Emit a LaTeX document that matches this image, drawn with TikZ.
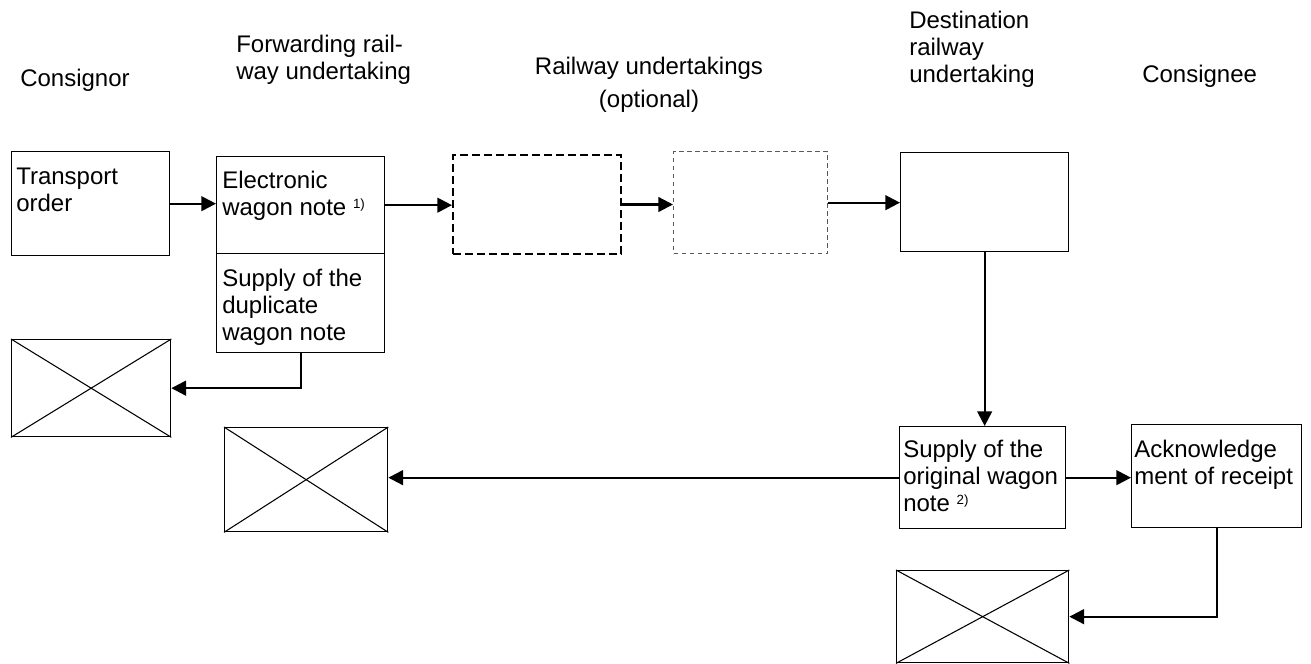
\documentclass[tikz,border=0pt]{standalone}
\usepackage{fontspec}
\setmainfont{Liberation Sans}
\usetikzlibrary{arrows.meta}
\newcommand\mylines[1]{\begin{tabular}[t]{@{}l@{}}#1\end{tabular}}
\newcommand\mycenter[1]{\begin{tabular}[t]{@{}c@{}}#1\end{tabular}}
\newcommand\fnmark[1]{\raisebox{5pt}{\fontsize{10pt}{10pt}\selectfont #1}}
\begin{document}
\begin{tikzpicture}[x=0.75pt,y=-0.75pt,
  every node/.style={font=\fontsize{18pt}{20.25pt}\selectfont},
  txt/.style={inner sep=0pt, anchor=base west},
  box/.style={draw, line width=1pt, inner sep=0pt, anchor=north west},
  dashA/.style={box, line width=1.5pt, dash pattern=on 6pt off 3pt},
  dashB/.style={box, draw=black!65, line width=1pt, dash pattern=on 3.5pt off 2.5pt},
  arr/.style={line width=1.7pt, -{Triangle[length=11pt,width=11pt]}},
  cross/.style={line width=0.8pt}
]
\useasboundingbox (0,0) rectangle (1311,664);

% column headings
\node[txt] (hcons) at (20,86) {Consignor};
\node[txt] (hfwd) at (236,52) {\mylines{Forwarding rail-\\way undertaking}};
\node[txt, anchor=base] (hrail) at (649,74) {\mycenter{Railway undertakings\\[5pt](optional)}};
\node[txt] (hdest) at (909,28) {\mylines{Destination\\railway\\undertaking}};
\node[txt] (hcgn) at (1142,82) {Consignee};

% boxes
\node[box, minimum width=158*0.75pt, minimum height=104*0.75pt] (tord) at (11,151) {};
\node[box, minimum width=168*0.75pt, minimum height=97*0.75pt] (ewn) at (216,156) {};
\node[box, minimum width=168*0.75pt, minimum height=99*0.75pt] (sdup) at (216,253) {};
\node[box, minimum width=159*0.75pt, minimum height=97*0.75pt] (xa) at (11,339) {};
\node[dashA, minimum width=168*0.75pt, minimum height=99*0.75pt] (da) at (452,154) {};
\node[dashB, minimum width=154*0.75pt, minimum height=102*0.75pt] (db) at (673,151) {};
\node[box, minimum width=168*0.75pt, minimum height=99*0.75pt] (dest) at (900,152) {};
\node[box, minimum width=166*0.75pt, minimum height=102*0.75pt] (sorig) at (899,426) {};
\node[box, minimum width=170*0.75pt, minimum height=103*0.75pt] (ack) at (1131,424) {};
\node[box, minimum width=163*0.75pt, minimum height=104*0.75pt] (xb) at (224,427) {};
\node[box, minimum width=172*0.75pt, minimum height=92*0.75pt] (xc) at (896,570) {};

% crosses
\foreach \b in {xa,xb,xc}{
  \draw[cross] (\b.north west) -- (\b.south east);
  \draw[cross] (\b.north east) -- (\b.south west);
}

% box texts
\node[txt] (ttord) at (16,184) {\mylines{Transport\\order}};
\node[txt] (tewn) at (222,188) {\mylines{Electronic\\wagon note \fnmark{1)}}};
\node[txt] (tsdup) at (222,286) {\mylines{Supply of the\\duplicate\\wagon note}};
\node[txt] (tsorig) at (903,457) {\mylines{Supply of the\\original wagon\\note \fnmark{2)}}};
\node[txt] (tack) at (1134,457) {\mylines{Acknowledge\\ment of receipt}};

% connectors
\draw[arr] (tord.east) -- (ewn.west |- tord.east);
\draw[arr] (ewn.east) -- (da.west |- ewn.east);
\draw[arr] (da.east) -- (db.west |- da.east);
\draw[arr] (db.east) -- (dest.west |- db.east);
\draw[arr] (dest.south) -- (dest.south |- sorig.north);
\draw[arr] (sdup.south) |- (xa.east);
\draw[arr] (sorig.east) -- (ack.west |- sorig.east);
\draw[arr] (sorig.west) -- (xb.east |- sorig.west);
\draw[arr] (ack.south) |- (xc.east);
\end{tikzpicture}
\end{document}
